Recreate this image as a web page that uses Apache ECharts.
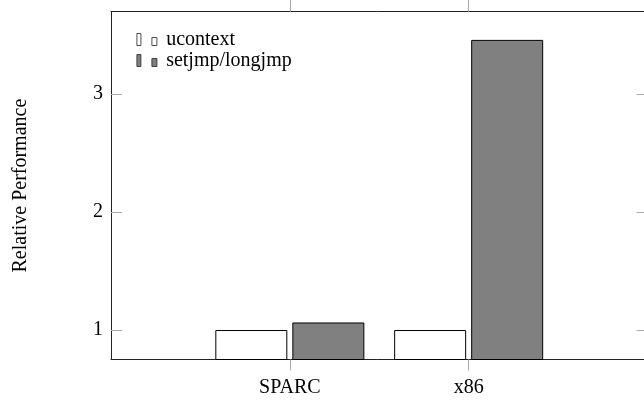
<!DOCTYPE html>
<html>
<head>
<meta charset="utf-8">
<script src="https://cdn.jsdelivr.net/npm/echarts@6/dist/echarts.min.js"></script>
<style>html,body{margin:0;padding:0;background:#fff}#c{width:644px;height:400px}</style>
</head>
<body>
<div id="c"></div>
<script>
// ---- data ----
var categories = ['SPARC', 'x86'];
var categoryPos = [0, 1];
var ucontextValues = [1.0, 1.0];
var setjmpValues = [1.064, 3.461];
var seriesNames = ['ucontext', 'setjmp/longjmp'];
var yTicks = [1, 2, 3];
var yLabel = 'Relative Performance';

var font = 'Liberation Serif';
function pairs(vals) { return vals.map(function (v, i) { return [categoryPos[i], v]; }); }

var chart = echarts.init(document.getElementById('c'), null, { renderer: 'canvas' });
var legendIcon = 'path://M0,0H4V12H0Z M15,4H20V12H15Z';
chart.setOption({
  animation: false,
  backgroundColor: '#fff',
  textStyle: { fontFamily: font },
  grid: { left: 111, top: 11.7, width: 536.5, height: 347.8, containLabel: false, outerBoundsMode: 'none' },
  legend: {
    left: 136.5, top: 29, padding: 0, orient: 'vertical', itemWidth: 20.5, itemHeight: 12, itemGap: 0,
    icon: legendIcon,
    itemStyle: { borderWidth: 0.8, borderColor: '#222' },
    textStyle: { fontFamily: font, fontSize: 20, color: '#000', lineHeight: 21, padding: [0, 0, 0, 4] },
    data: seriesNames
  },
  xAxis: [{
    type: 'value', min: -1, max: 2, interval: 1, position: 'bottom',
    splitLine: { show: false },
    axisLine: { show: true, onZero: false, lineStyle: { color: '#222', width: 1 } },
    axisTick: { show: true, inside: false, length: 11, customValues: categoryPos, lineStyle: { color: '#aaa' } },
    axisLabel: { customValues: categoryPos, margin: 18, fontFamily: font, fontSize: 20, color: '#000',
      formatter: function (v) { var i = categoryPos.indexOf(v); return i >= 0 ? categories[i] : ''; } }
  }, {
    type: 'value', min: -1, max: 2, interval: 1, position: 'top',
    splitLine: { show: false },
    axisLine: { show: true, onZero: false, lineStyle: { color: '#222', width: 1 } },
    axisTick: { show: true, inside: false, length: 12, customValues: categoryPos, lineStyle: { color: '#aaa' } },
    axisLabel: { show: false }
  }],
  yAxis: [{
    type: 'value', min: 0.75, max: 3.7, position: 'left',
    name: yLabel, nameLocation: 'middle', nameGap: 80,
    nameTextStyle: { fontFamily: font, fontSize: 20, color: '#000' },
    splitLine: { show: false },
    axisLine: { show: true, onZero: false, lineStyle: { color: '#222', width: 1 } },
    axisTick: { show: true, inside: true, length: 11, customValues: yTicks, lineStyle: { color: '#aaa' } },
    axisLabel: { customValues: yTicks, margin: 8, fontFamily: font, fontSize: 20, color: '#000' }
  }, {
    type: 'value', min: 0.75, max: 3.7, position: 'right',
    splitLine: { show: false },
    axisLine: { show: true, onZero: false, lineStyle: { color: '#222', width: 1 } },
    axisTick: { show: true, inside: true, length: 11, customValues: yTicks, lineStyle: { color: '#aaa' } },
    axisLabel: { show: false }
  }],
  series: [{
    name: seriesNames[0], type: 'bar', xAxisIndex: 0, yAxisIndex: 0,
    barWidth: 72, barGap: '7%', clip: true,
    itemStyle: { color: '#fff', borderColor: '#000', borderWidth: 1 },
    data: pairs(ucontextValues)
  }, {
    name: seriesNames[1], type: 'bar', xAxisIndex: 0, yAxisIndex: 0,
    barWidth: 72, barGap: '7%', clip: true,
    itemStyle: { color: '#808080', borderColor: '#000', borderWidth: 1 },
    data: pairs(setjmpValues)
  }]
});
</script>
</body>
</html>
